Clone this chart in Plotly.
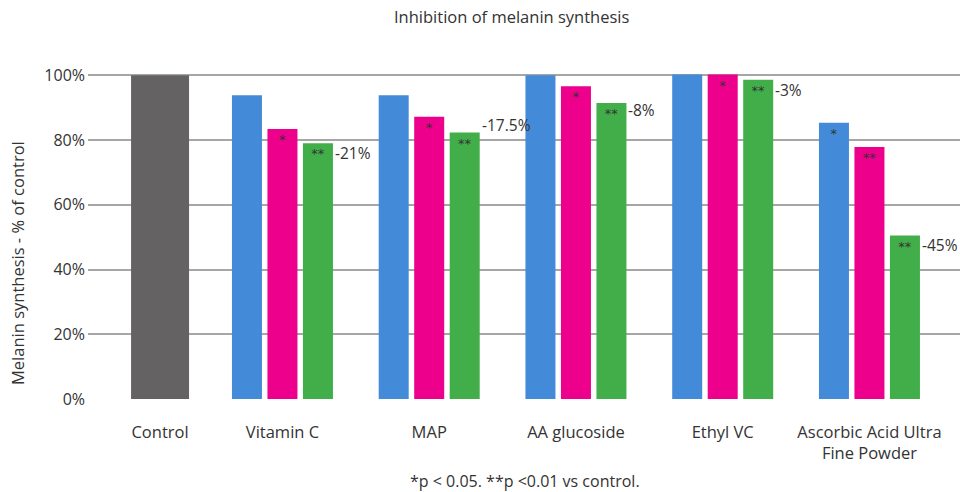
import numpy as np
import plotly.graph_objects as go

# ---------------- data ----------------
categories = ["Control", "Vitamin C", "MAP", "AA glucoside", "Ethyl VC",
              "Ascorbic Acid Ultra<br>Fine Powder"]
control_value = [100]
blue_values = [93.8, 93.8, 100.0, 100.2, 85.3]
pink_values = [83.4, 87.2, 96.6, 100.2, 77.8]
green_values = [79.0, 82.3, 91.4, 98.6, 50.5]
blue_marks = ["", "", "", "", "*"]
pink_marks = ["*", "*", "*", "*", "**"]
green_marks = ["**", "**", "**", "**", "**"]
change_labels = ["-21%", "-17.5%", "-8%", "-3%", "-45%"]
y_ticks = [0, 20, 40, 60, 80, 100]
y_tick_labels = ["0%", "20%", "40%", "60%", "80%", "100%"]

# ---------------- style ----------------
FONT = "Open Sans"
TXT = "#333333"
GRID = "#a6a6a6"
C_GRAY, C_BLUE, C_PINK, C_GREEN = "#646263", "#438bd8", "#ec008c", "#41ae4a"

W, H = 960, 492
M_L, M_R, M_T, M_B = 88, 0, 72, 92
X_RANGE = [-0.325, 5.617]
Y_RANGE = [-0.3, 101]
px_per_unit = (W - M_L - M_R) / (X_RANGE[1] - X_RANGE[0])

BAR_PX, STEP_PX, CTRL_PX = 30, 35.5, 58
bw = BAR_PX / px_per_unit
step = STEP_PX / px_per_unit
cw = CTRL_PX / px_per_unit

x_pos = np.arange(len(categories), dtype=float)
x_pos[0] += 0.166         # control bar sits closer to the first group
grp_x = x_pos[1:]

fig = go.Figure()
fig.add_bar(x=[x_pos[0]], y=control_value, width=cw, offset=-cw / 2,
            marker=dict(color=C_GRAY, line=dict(width=0)), showlegend=False,
            hoverinfo="skip")
for vals, marks, col, k in [(blue_values, blue_marks, C_BLUE, -1),
                            (pink_values, pink_marks, C_PINK, 0),
                            (green_values, green_marks, C_GREEN, 1)]:
    fig.add_bar(x=grp_x, y=vals, width=bw, offset=k * step - bw / 2,
                marker=dict(color=col, line=dict(width=0)),
                text=marks, textposition="inside", insidetextanchor="end",
                textangle=0, constraintext="none",
                insidetextfont=dict(family="DejaVu Sans", size=13, color=TXT),
                showlegend=False, hoverinfo="skip")

label_nudge = [-10, 8, -7, -10, -9]
for xv, yv, lab, dy in zip(grp_x, green_values, change_labels, label_nudge):
    fig.add_annotation(x=xv + step + bw / 2, y=yv, text=lab, showarrow=False,
                       xanchor="left", yanchor="middle", xshift=0, yshift=dy,
                       font=dict(family=FONT, size=15.5, color=TXT))

fig.add_annotation(text="Inhibition of melanin synthesis", xref="paper", yref="paper",
                   x=(512 - M_L) / (W - M_L - M_R), y=(H - M_B - 16) / (H - M_T - M_B),
                   showarrow=False, xanchor="center", yanchor="middle",
                   font=dict(family=FONT, size=16.5, color=TXT))
fig.add_annotation(text="Melanin synthesis - % of control", xref="paper", yref="paper",
                   x=(17 - M_L) / (W - M_L - M_R), y=(H - M_B - 263) / (H - M_T - M_B),
                   textangle=-90, showarrow=False, xanchor="center", yanchor="middle",
                   font=dict(family=FONT, size=16.5, color=TXT))
fig.add_annotation(text="*p < 0.05. **p <0.01 vs control.", xref="paper", yref="paper",
                   x=(525 - M_L) / (W - M_L - M_R), y=(H - M_B - 481) / (H - M_T - M_B),
                   showarrow=False, xanchor="center", yanchor="middle",
                   font=dict(family=FONT, size=16, color=TXT))

fig.update_layout(
    width=W, height=H, barmode="overlay",
    margin=dict(l=M_L, r=M_R, t=M_T, b=M_B),
    paper_bgcolor="white", plot_bgcolor="white",
    font=dict(family=FONT, size=16, color=TXT),
    xaxis=dict(range=X_RANGE, tickvals=list(x_pos), ticktext=categories,
               showgrid=False, zeroline=False, showline=False, ticks="",
               ticklabelstandoff=20, tickfont=dict(size=16.5, color=TXT)),
    yaxis=dict(range=Y_RANGE, tickvals=y_ticks, ticktext=y_tick_labels,
               showgrid=True, gridcolor=GRID, gridwidth=1.5, zeroline=False,
               showline=False, ticks="", ticklabelstandoff=2,
               tickfont=dict(size=16, color=TXT)),
)
fig.write_html("out.html", post_script="document.body.style.margin='0';",
               config={"displayModeBar": False})
